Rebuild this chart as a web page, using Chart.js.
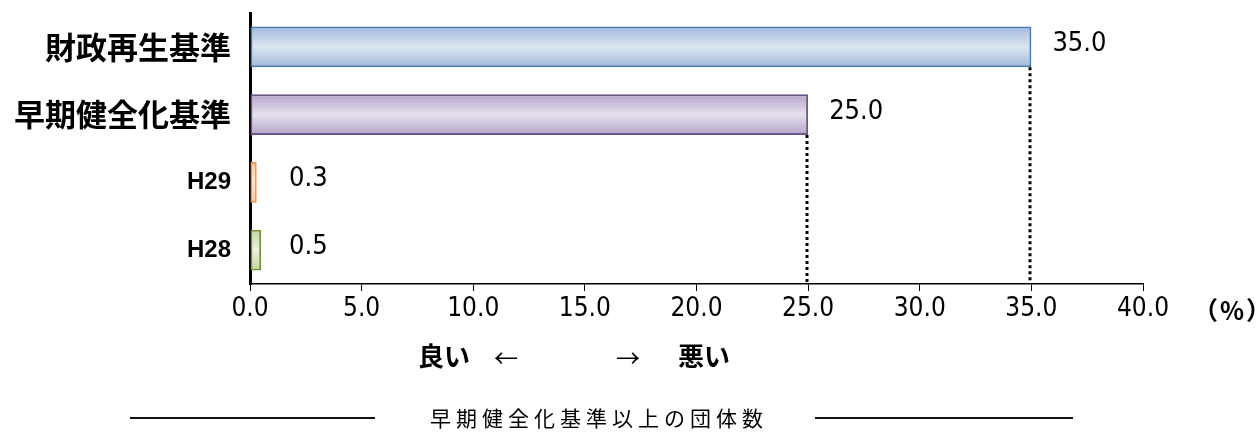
<!DOCTYPE html>
<html lang="ja">
<head>
<meta charset="utf-8">
<title>健全化判断比率</title>
<script src="https://cdn.jsdelivr.net/npm/chart.js@4.4.1/dist/chart.umd.min.js"></script>
<style>
  html, body { margin: 0; padding: 0; background: #fff; }
  #wrap { width: 1259px; height: 432px; position: relative; }
</style>
</head>
<body>
<div id="wrap"><canvas id="ratioChart" width="1259" height="432"></canvas></div>
<script>
// chart data
const categories = ['財政再生基準', '早期健全化基準', 'H29', 'H28'];
const ratioValues = [35.0, 25.0, 0.3, 0.5];
const axisMin = 0;
const axisMax = 40;
const axisStep = 5;
const unitLabel = '（%）';
const directionLabels = ['良い', '←', '→', '悪い'];
const footerLabel = '早期健全化基準以上の団体数';
const guideIndexes = [0, 1];   // bars that get a dotted guide down to the axis

// bar colours: border, edge of gradient, centre of gradient
const borderColors = ['#4a78b0', '#6d5589', '#f79646', '#77933c'];
const edgeColors   = ['#9fb9da', '#b4a3c8', '#fbc79e', '#c3d69b'];
const centerColors = ['#dce6f2', '#e6e0ee', '#fde9d9', '#eef3e2'];

const NARROW = '"Liberation Sans Narrow", "DejaVu Sans Condensed", "Liberation Sans", Arial, sans-serif';
const CJK = '"Noto Sans CJK JP", "Noto Sans", sans-serif';

// vertical gradient for each bar, light in the middle
function barGradient(context) {
    const chart = context.chart;
    const yScale = chart.scales.y;
    if (!chart.chartArea || !yScale) return centerColors[context.dataIndex];
    const cy = yScale.getPixelForValue(context.dataIndex);
    const half = yScale.height / categories.length * 0.6 / 2;
    const g = chart.ctx.createLinearGradient(0, cy - half, 0, cy + half);
    g.addColorStop(0, edgeColors[context.dataIndex]);
    g.addColorStop(0.5, centerColors[context.dataIndex]);
    g.addColorStop(1, edgeColors[context.dataIndex]);
    return g;
}

// dotted guides, value labels and the text under the axis
const extrasPlugin = {
    id: 'extras',
    afterDatasetsDraw(chart) {
        const ctx = chart.ctx;
        const area = chart.chartArea;
        const meta = chart.getDatasetMeta(0);

        ctx.save();
        ctx.strokeStyle = '#000';
        ctx.lineWidth = 3;
        ctx.setLineDash([3, 3]);
        guideIndexes.forEach(i => {
            const bar = meta.data[i];
            const x = Math.round(bar.x) - 1;
            ctx.beginPath();
            ctx.moveTo(x, bar.y + bar.height / 2);
            ctx.lineTo(x, area.bottom);
            ctx.stroke();
        });
        ctx.restore();

        ctx.save();
        ctx.fillStyle = '#000';
        ctx.font = '27px ' + NARROW;
        ctx.textAlign = 'left';
        ctx.textBaseline = 'middle';
        meta.data.forEach((bar, i) => {
            const x = Math.max(bar.x + 21, area.left + 39);
            ctx.fillText(ratioValues[i].toFixed(1), x, bar.y - 3);
        });

        // unit after the last tick
        ctx.font = 'bold 25px ' + CJK;
        ctx.textAlign = 'left';
        ctx.letterSpacing = '2px';
        ctx.fillText(unitLabel, 1193, 310);
        ctx.letterSpacing = '0px';

        // good / bad direction
        ctx.font = 'bold 26px ' + CJK;
        ctx.textAlign = 'center';
        ctx.fillText(directionLabels[0], 444, 356);
        ctx.fillText(directionLabels[3], 704, 356);
        ctx.font = '24px ' + CJK;
        ctx.fillText(directionLabels[1], 506, 358);
        ctx.fillText(directionLabels[2], 628, 358);

        // footer line + label
        ctx.strokeStyle = '#111';
        ctx.lineWidth = 2;
        ctx.beginPath();
        ctx.moveTo(130, 418); ctx.lineTo(375, 418);
        ctx.moveTo(815, 418); ctx.lineTo(1073, 418);
        ctx.stroke();
        ctx.font = '21px ' + CJK;
        ctx.letterSpacing = '5px';
        ctx.fillText(footerLabel, 599, 418);
        ctx.restore();
    }
};

const chart = new Chart(document.getElementById('ratioChart'), {
    type: 'bar',
    data: {
        labels: categories,
        datasets: [{
            data: ratioValues,
            backgroundColor: barGradient,
            borderColor: borderColors,
            borderWidth: 2,
            borderSkipped: false,
            categoryPercentage: 1,
            barPercentage: 0.6
        }]
    },
    options: {
        indexAxis: 'y',
        responsive: false,
        animation: false,
        devicePixelRatio: 1,
        layout: { padding: { left: 0, right: 116, top: 13, bottom: 0 } },
        plugins: {
            legend: { display: false },
            tooltip: { enabled: false },
            title: { display: false }
        },
        scales: {
            x: {
                min: axisMin,
                max: axisMax,
                afterFit(scale) {
                    scale.height = 432 - 284;
                    scale.paddingLeft = 0;
                    scale.paddingRight = 0;
                },
                grid: {
                    drawOnChartArea: false,
                    drawTicks: true,
                    tickLength: 7,
                    color: '#000'
                },
                border: { display: true, color: '#000', width: 1.5 },
                ticks: {
                    stepSize: axisStep,
                    padding: 3,
                    color: '#000',
                    font: { family: NARROW, size: 26 },
                    callback: v => Number(v).toFixed(1)
                }
            },
            y: {
                z: 1,
                afterFit(scale) {
                    scale.width = 250;
                    scale.paddingTop = 0;
                    scale.paddingBottom = 0;
                },
                grid: { display: false },
                border: { display: true, color: '#000', width: 3 },
                ticks: {
                    padding: 11,
                    color: '#000',
                    font: ctx => ctx.index < 2
                        ? { family: CJK, size: 31, weight: 'bold' }
                        : { family: '"Liberation Sans", Arial, sans-serif', size: 24, weight: 'bold' }
                }
            }
        }
    },
    plugins: [extrasPlugin]
});
</script>
</body>
</html>
